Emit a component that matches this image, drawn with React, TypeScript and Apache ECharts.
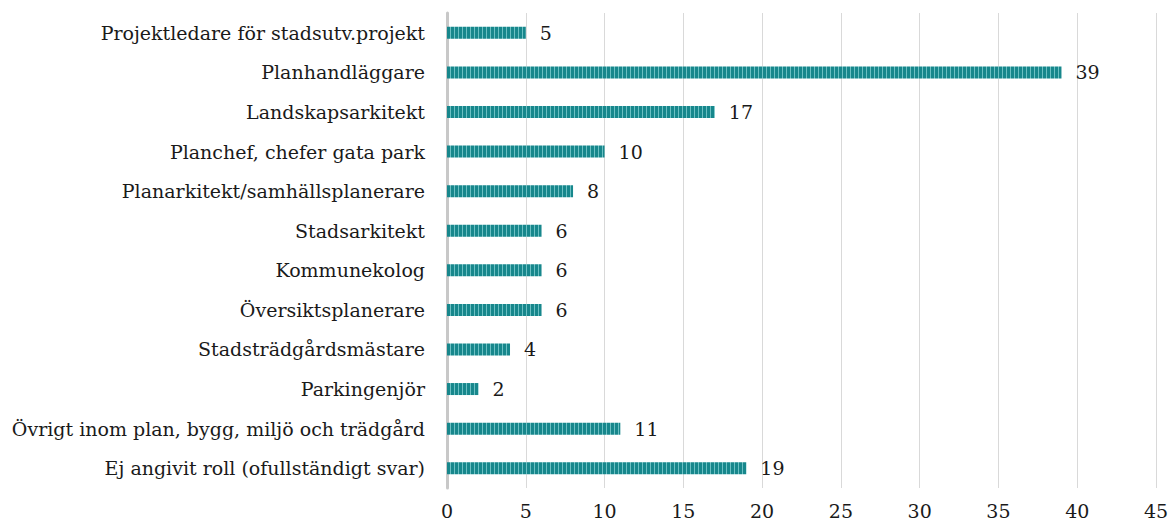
import React, { useEffect, useRef } from "react";
import * as echarts from "echarts";

const categories = [
  "Projektledare för stadsutv.projekt",
  "Planhandläggare",
  "Landskapsarkitekt",
  "Planchef, chefer gata park",
  "Planarkitekt/samhällsplanerare",
  "Stadsarkitekt",
  "Kommunekolog",
  "Översiktsplanerare",
  "Stadsträdgårdsmästare",
  "Parkingenjör",
  "Övrigt inom plan, bygg, miljö och trädgård",
  "Ej angivit roll (ofullständigt svar)",
];
const values = [5, 39, 17, 10, 8, 6, 6, 6, 4, 2, 11, 19];
const xTicks = [0, 5, 10, 15, 20, 25, 30, 35, 40, 45];

function makePattern() {
  const c = document.createElement("canvas");
  c.width = 4;
  c.height = 4;
  const ctx = c.getContext("2d")!;
  ctx.fillStyle = "#17878c";
  ctx.fillRect(0, 0, 4, 4);
  ctx.fillStyle = "#6cc0c3";
  ctx.fillRect(2, 0, 1, 4);
  return c;
}

export default function App() {
  const ref = useRef<HTMLDivElement>(null);
  useEffect(() => {
    const chart = echarts.init(ref.current!, undefined, { renderer: "svg" });
    const font = "DejaVu Serif";
    chart.setOption({
      animation: false,
      textStyle: { fontFamily: font },
      grid: {
        left: 447,
        right: 14,
        top: 13,
        bottom: 36,
        containLabel: false,
        outerBoundsMode: "none",
      },
      xAxis: {
        type: "value",
        min: 0,
        max: 45,
        interval: 5,
        axisLine: { show: false },
        axisTick: { show: false },
        splitLine: { show: true, lineStyle: { color: "#d9d9d9", width: 1 } },
        axisLabel: {
          color: "#1a1a1a",
          fontFamily: font,
          fontSize: 19,
          margin: 13,
          formatter: (v: number) => (xTicks.includes(v) ? String(v) : ""),
        },
      },
      yAxis: {
        type: "category",
        inverse: true,
        data: categories,
        axisLine: { show: true, lineStyle: { color: "#c8c8c8", width: 3 } },
        axisTick: { show: false },
        axisLabel: { color: "#1a1a1a", fontFamily: font, fontSize: 19, margin: 22 },
      },
      series: [
        {
          type: "bar",
          data: values,
          barWidth: 12,
          itemStyle: {
            color: { image: makePattern(), repeat: "repeat" },
          },
          label: {
            show: true,
            position: "right",
            distance: 14,
            color: "#1a1a1a",
            fontFamily: font,
            fontSize: 19,
          },
        },
      ],
    });
    return () => chart.dispose();
  }, []);
  return (
    <div
      ref={ref}
      style={{ position: "absolute", left: 0, top: 0, width: 1170, height: 524 }}
    />
  );
}
